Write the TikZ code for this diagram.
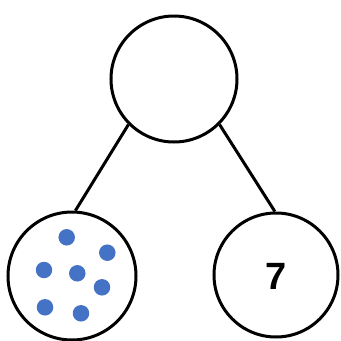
\documentclass[tikz,border=0pt]{standalone}
\usepackage{fontspec}
\setmainfont{Liberation Sans}
\definecolor{dotblue}{HTML}{4472C4}
\begin{document}
\begin{tikzpicture}[x=1pt,y=-1pt,
  bubble/.style={circle,draw=black,line width=3pt,inner sep=0pt,fill=white},
  dot/.style={circle,fill=dotblue,inner sep=0pt,minimum size=16.5pt},
  link/.style={line width=3pt}]
\useasboundingbox (0,0) rectangle (341,341);
\node[bubble,minimum size=126pt] (top) at (174,79) {};
\node[bubble,minimum size=128pt] (left) at (72,276) {};
\node[bubble,minimum size=124pt] (right) at (276,275) {};
\draw[link] (top.-135) -- (left.87);
\draw[link] (top.-45) -- (right.91);
\node[font=\bfseries\fontsize{38}{38}\selectfont] (seven) at (276,276) {7};
\node[dot] (d1) at (66.7,237.3) {};
\node[dot] (d2) at (107.3,252.7) {};
\node[dot] (d3) at (44,270) {};
\node[dot] (d4) at (77.3,273.3) {};
\node[dot] (d5) at (102,287.3) {};
\node[dot] (d6) at (45,307.3) {};
\node[dot] (d7) at (81,313.3) {};
\end{tikzpicture}
\end{document}
